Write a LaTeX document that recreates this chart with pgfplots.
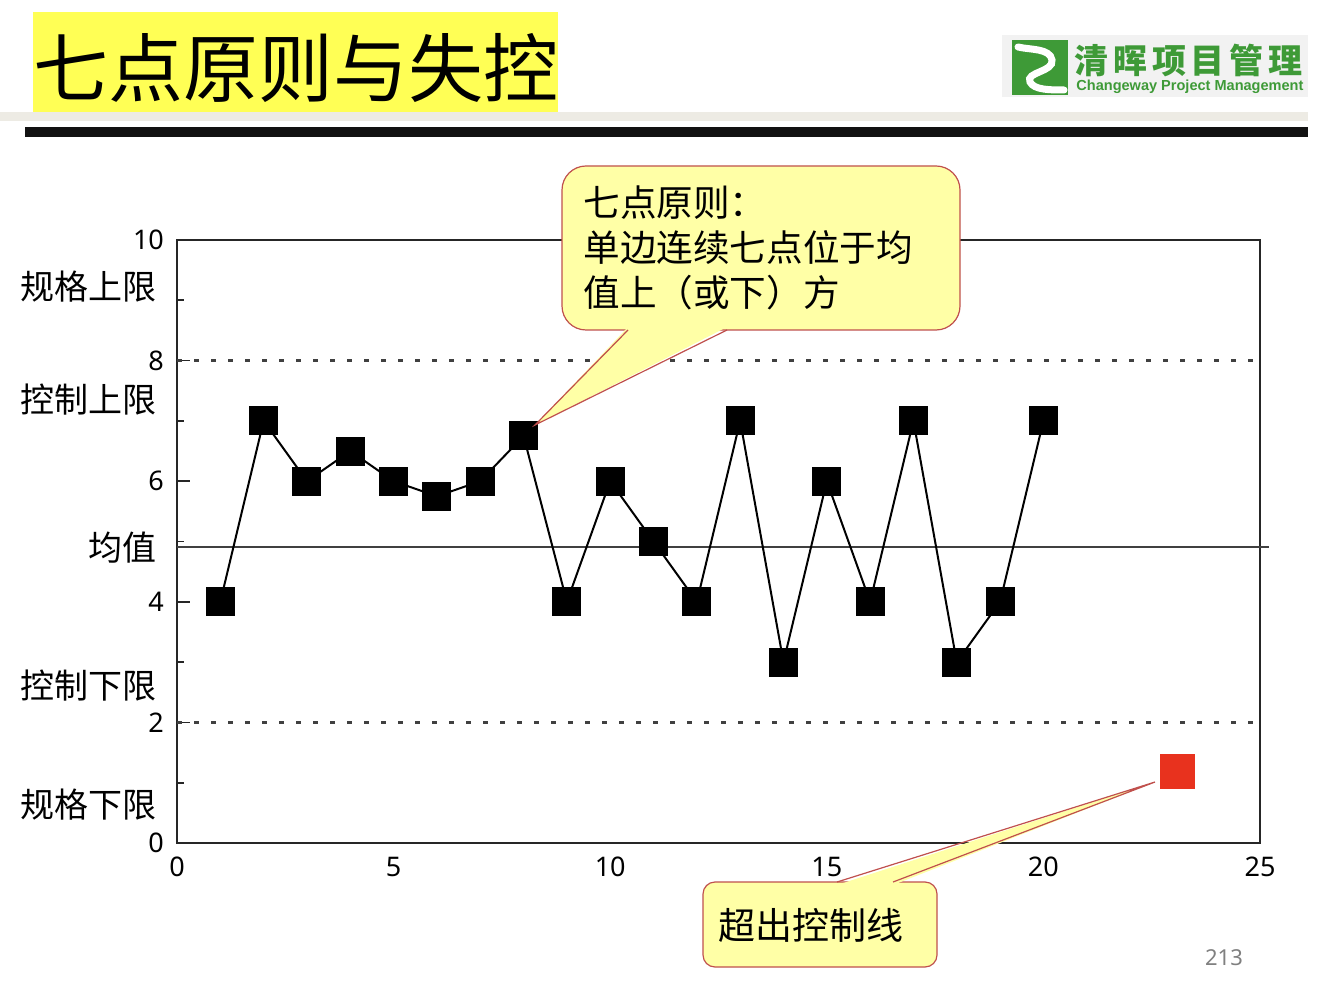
\documentclass[border=0pt]{standalone}
\usepackage{fontspec}
\usepackage{pgfplots}
\pgfplotsset{compat=1.18}
\setmainfont{Noto Sans}
\newfontfamily\cjk{Noto Sans CJK SC}
\newfontfamily\logofont{Liberation Sans}
\definecolor{titleyellow}{HTML}{FFFF55}
\definecolor{callfill}{HTML}{FFFFA6}
\definecolor{calldraw}{HTML}{C0504D}
\definecolor{logogreen}{HTML}{3E9A37}
\definecolor{ptred}{HTML}{E8321E}
\definecolor{band}{HTML}{EDEBE4}
\begin{document}
\begin{tikzpicture}
\useasboundingbox (0,0) rectangle (660pt,493pt);
\fill[white] (0,0) rectangle (660pt,493pt);
\begin{scope}[x=0.5pt,y=-0.5pt,yshift=493pt]
  % title
  \fill[titleyellow] (33,12) rectangle (558,112);
  \node[anchor=west,inner sep=0] at (33,68) {\cjk\fontsize{37.5pt}{40pt}\selectfont 七点原则与失控};
  % bands
  \fill[band] (0,112) rectangle (1308,121);
  \fill[black!93] (25,127) rectangle (1308,137);
  % logo
  \fill[black!5] (1002,35) rectangle (1308,97);
  \fill[logogreen] (1012,40) rectangle (1068,95);
  \draw[white,line width=3.5pt,line cap=round] (1018,47) .. controls (1030,50) and (1050,48) .. (1052,60) .. controls (1054,72) and (1025,72) .. (1030,82) .. controls (1034,90) and (1050,90) .. (1064,90);
  \node[anchor=west,inner sep=0,text=logogreen] at (1074,61) {\cjk\bfseries\fontsize{17pt}{18pt}\selectfont 清\hspace{2.4pt}晖\hspace{2.4pt}项\hspace{2.4pt}目\hspace{2.4pt}管\hspace{2.4pt}理};
  \node[anchor=west,inner sep=0,text=logogreen] at (1076,87) {\resizebox{113.5pt}{!}{\logofont\bfseries\fontsize{7.5pt}{8pt}\selectfont Changeway Project Management}};
\end{scope}

\begin{axis}[
  at={(88.5pt,71.5pt)}, anchor=south west,
  scale only axis, width=541.5pt, height=301.5pt,
  xmin=0, xmax=25, ymin=0, ymax=10,
  xtick={0,5,...,25}, ytick={0,2,...,10}, minor ytick={1,3,...,9},
  tick align=inside, ytick pos=left, xtick pos=bottom,
  major x tick style={draw=none},
  major tick length=6.5pt, minor tick length=3.5pt,
  tick style={black!85, line width=0.8pt},
  axis line style={black!85, line width=1pt},
  tick label style={font=\fontsize{13.5pt}{15pt}\selectfont},
  /pgf/number format/assume math mode=true,
  yticklabel style={xshift=-3pt},
  xticklabel style={yshift=-3.5pt},
  clip=false,
]
\addplot[black!75, line width=1.1pt, dash pattern=on 2.5pt off 6pt] coordinates {(0,8) (25,8)};
\addplot[black!75, line width=1.1pt, dash pattern=on 2.5pt off 6pt] coordinates {(0,2) (25,2)};
\addplot[black!75, line width=0.8pt] coordinates {(0,4.91) (25.2,4.91)};
\addplot[black, line width=1pt, mark=square*, mark size=6.75pt, mark options={solid, fill=black}] coordinates {
(1,4) (2,7) (3,6) (4,6.5) (5,6) (6,5.75) (7,6) (8,6.75) (9,4) (10,6)
(11,5) (12,4) (13,7) (14,3) (15,6) (16,4) (17,7) (18,3) (19,4) (20,7)};
\addplot[only marks, mark=square*, mark size=8.5pt, color=ptred] coordinates {(23.1,1.18)};
\end{axis}

\begin{scope}[x=0.5pt,y=-0.5pt,yshift=493pt]
  % left labels
  \foreach \y/\t in {287/规格上限, 400/控制上限, 548/均值, 686/控制下限, 805/规格下限}{
    \node[anchor=east,inner sep=0] at (157,\y) {\cjk\fontsize{17pt}{19pt}\selectfont \t};
  }
  % callout 1
  \filldraw[fill=callfill, draw=calldraw, line width=0.6pt, rounded corners=12pt] (562,166) rectangle (960,330);
  \fill[callfill] (628,327) -- (727,327) -- (535,425) -- cycle;
  \draw[calldraw, line width=0.6pt] (628,330) -- (535,425) -- (727,330);
  \node[anchor=west,inner sep=0] at (583,203) {\cjk\fontsize{18.3pt}{20pt}\selectfont 七点原则：};
  \node[anchor=west,inner sep=0] at (583,248) {\cjk\fontsize{18.3pt}{20pt}\selectfont 单边连续七点位于均};
  \node[anchor=west,inner sep=0] at (583,293) {\cjk\fontsize{18.3pt}{20pt}\selectfont 值上（或下）方};
  % callout 2
  \filldraw[fill=callfill, draw=calldraw, line width=0.6pt, rounded corners=6pt] (703,882) rectangle (937,967);
  \fill[callfill] (837,885) -- (893,885) -- (1155,782) -- cycle;
  \draw[calldraw, line width=0.6pt] (837,882) -- (1155,782) -- (893,882);
  \node[anchor=west,inner sep=0] at (718,925) {\cjk\fontsize{18.5pt}{20pt}\selectfont 超出控制线};
  % page number
  \node[anchor=center,inner sep=0,text=black!50] at (1224,958) {\fontsize{11pt}{12pt}\selectfont 213};
\end{scope}
\end{tikzpicture}
\end{document}
